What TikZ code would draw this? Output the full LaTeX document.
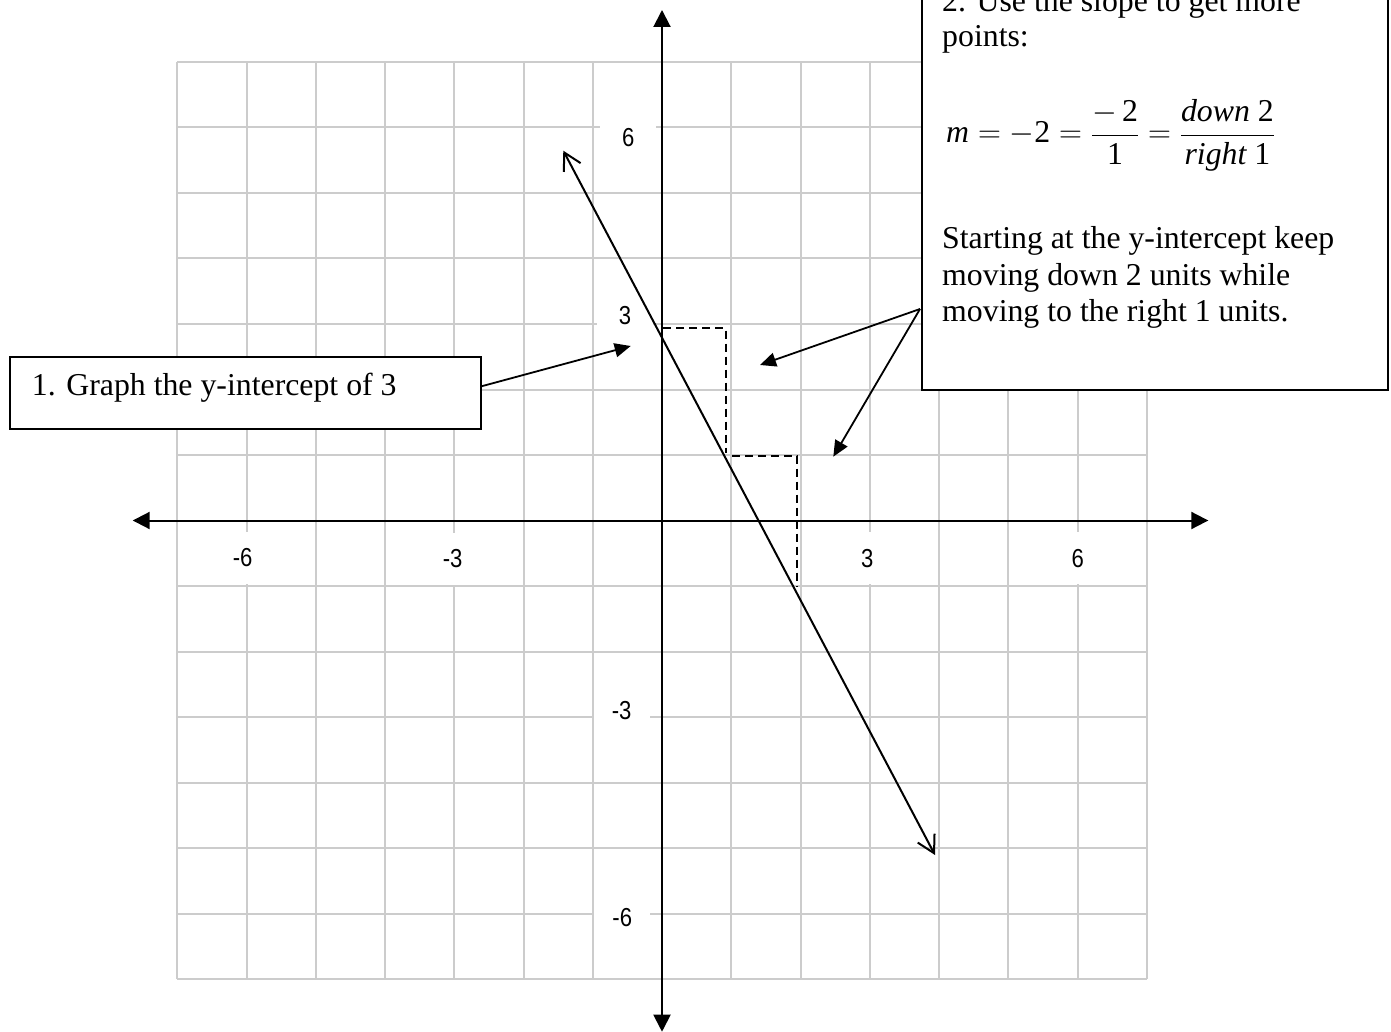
\RequirePackage{fix-cm}
\documentclass[tikz,border=0pt]{standalone}
\usepackage{fontspec}
\usepackage{amsmath}
\setmainfont{Liberation Serif}
\newfontfamily\lblfont[FakeStretch=0.85]{Liberation Sans}
\usetikzlibrary{arrows.meta}
\definecolor{gridgray}{RGB}{204,204,204}
\tikzset{
  gridline/.style={draw=gridgray, line width=2pt},
  axisline/.style={line width=2pt, {Triangle[length=17pt,width=17pt]}-{Triangle[length=17pt,width=17pt]}},
  ticklbl/.style={font=\lblfont\fontsize{26}{26}\selectfont, fill=white, inner sep=0pt},
  xtick/.style={ticklbl, minimum width=40pt, minimum height=52pt},
  ytick/.style={ticklbl, minimum width=56pt, minimum height=46pt},
  callout/.style={draw, line width=2pt, fill=white, inner sep=0pt},
  pointer/.style={line width=1.8pt, -{Triangle[length=16pt,width=14pt]}},
  graphline/.style={line width=2pt, {Straight Barb[length=17pt,width=19pt]}-{Straight Barb[length=17pt,width=19pt]}},
  stepline/.style={line width=1.8pt, dash pattern=on 8pt off 5pt},
  txt/.style={font=\fontsize{31.8}{36.7}\selectfont, inner sep=0pt, anchor=base west}
}
\begin{document}
\begin{tikzpicture}[x=1pt,y=-1pt]
\useasboundingbox (0,0) rectangle (1391,1032);
\clip (0,0) rectangle (1391,1032);
\fill[white] (0,0) rectangle (1391,1032);
% grid
\foreach \k in {-7,...,7} {
  \draw[gridline] ({662+69.25*\k},62) -- ({662+69.25*\k},979);
  \draw[gridline] (177.25,{520.5+65.5*\k}) -- (1146.75,{520.5+65.5*\k});
}
% tick labels
\node[xtick] (xm6) at (242.7,558) {-6};
\node[xtick] (xm3) at (452.7,558.5) {-3};
\node[xtick] (xp3) at (867.3,558.3) {3};
\node[xtick] (xp6) at (1077.7,558.3) {6};
\node[ytick] (yp6) at (628.3,137.3) {6};
\node[ytick] (yp3) at (625,316) {3};
\node[ytick] (ym3) at (621.7,710.7) {-3};
\node[ytick] (ym6) at (622.3,917.3) {-6};
% axes
\coordinate (xl) at (132.7,520.5);
\coordinate (xr) at (1208.3,520.5);
\coordinate (yt) at (662,10);
\coordinate (yb) at (662,1031.7);
\draw[axisline] (xl) -- (xr);
\draw[axisline] (yt) -- (yb);
% slope steps
\coordinate (d1) at (663,328.3);
\coordinate (d2) at (725.7,328.3);
\coordinate (d3) at (725.7,453);
\coordinate (d4) at (732.3,455.7);
\coordinate (d5) at (797.3,455.7);
\coordinate (d6) at (797.3,586.7);
\draw[stepline] (d1) -- (d2) -- (d3);
\draw[stepline] (d4) -- (d5) -- (d6);
% graphed line
\coordinate (lt) at (563.3,150.7);
\coordinate (lb) at (935,855);
\draw[graphline] (lt) -- (lb);
% callout 1
\node[callout, minimum width=471pt, minimum height=72.3pt, anchor=north west] (box1) at (9,356) {};
\node[txt] (t1) at (31.7,395.7) {1. Graph the y-intercept of 3};
\coordinate (p1) at (630.7,346);
\draw[pointer] ([yshift=7pt]box1.east) -- (p1);
% callout 2
\node[callout, minimum width=466pt, minimum height=430pt, anchor=south west] (box2) at (921,391) {};
\node[txt] (s1) at (942,11.7) {2. Use the slope to get more};
\node[txt] (s2) at (942,46.7) {points:};
\node[txt] (s3) at (946,143) {$\displaystyle \textit{m} = -\text{2} = \frac{-\,\text{2}}{\text{1}} = \frac{\textit{down}\ \text{2}}{\textit{right}\ \text{1}}$};
\node[txt] (s4) at (942,248.3) {Starting at the y-intercept keep};
\node[txt] (s5) at (942,285) {moving down 2 units while};
\node[txt] (s6) at (942,321.7) {moving to the right 1 units.};
\coordinate (q0) at (920,309);
\coordinate (q1) at (760,365);
\coordinate (q2) at (833.3,456.7);
\draw[pointer] (q0) -- (q1);
\draw[pointer] (q0) -- (q2);
\end{tikzpicture}
\end{document}
